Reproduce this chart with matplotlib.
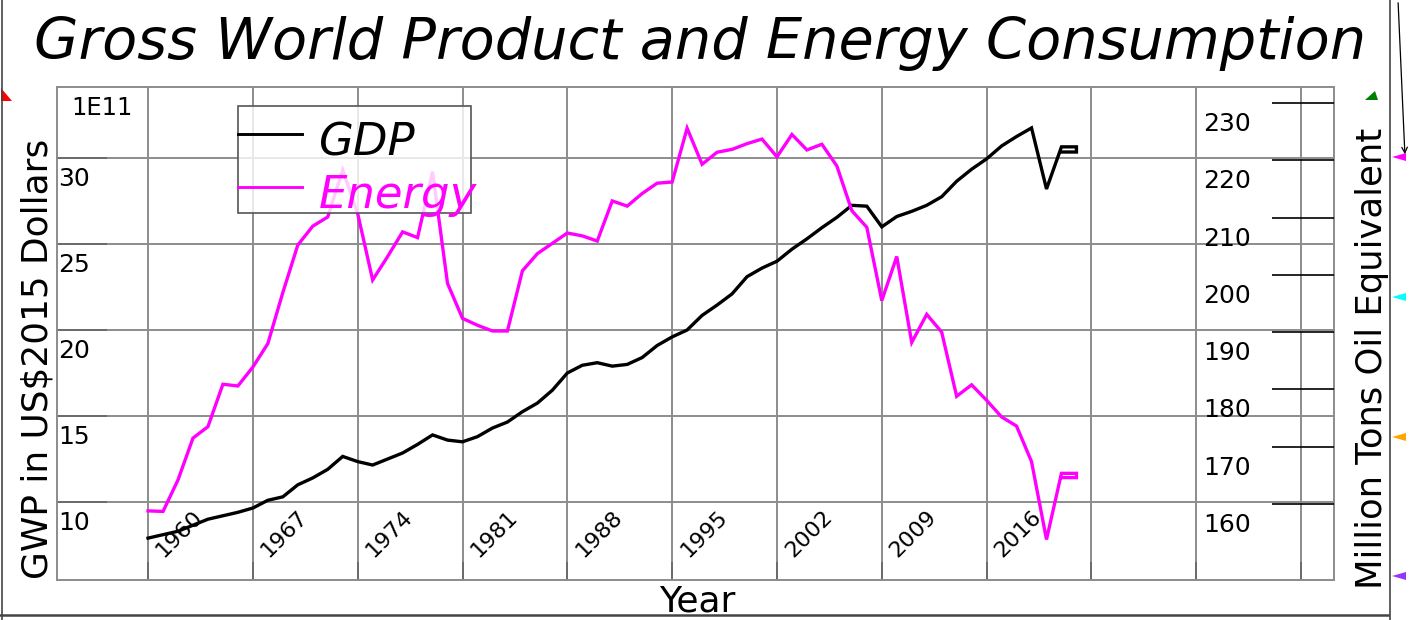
import matplotlib
matplotlib.use("Agg")
import matplotlib.pyplot as plt
from matplotlib import transforms
from matplotlib.lines import Line2D
from matplotlib.patches import Rectangle, Polygon, FancyArrowPatch

plt.rcParams['font.family'] = ['DejaVu Sans']

# ---------------- data ----------------
years = [1960, 1961, 1962, 1963, 1964, 1965, 1966, 1967, 1968, 1969,
         1970, 1971, 1972, 1973, 1974, 1975, 1976, 1977, 1978, 1979,
         1980, 1981, 1982, 1983, 1984, 1985, 1986, 1987, 1988, 1989,
         1990, 1991, 1992, 1993, 1994, 1995, 1996, 1997, 1998, 1999,
         2000, 2001, 2002, 2003, 2004, 2005, 2006, 2007, 2008, 2009,
         2010, 2011, 2012, 2013, 2014, 2015, 2016, 2017, 2018, 2019,
         2020, 2021, 2022, 2022, 2021]

gdp = [7.9, 8.1, 8.3, 8.65, 9.0, 9.2, 9.4, 9.65, 10.1, 10.3,
       11.0, 11.4, 11.9, 12.65, 12.35, 12.15, 12.5, 12.85, 13.35, 13.9,
       13.6, 13.5, 13.8, 14.3, 14.65, 15.25, 15.75, 16.5, 17.5, 17.95,
       18.1, 17.9, 18.0, 18.4, 19.1, 19.6, 20.0, 20.85, 21.45, 22.1,
       23.1, 23.6, 24.0, 24.7, 25.3, 25.95, 26.55, 27.25, 27.2, 26.0,
       26.6, 26.9, 27.25, 27.75, 28.65, 29.35, 29.95, 30.7, 31.25, 31.75,
       28.2, 30.65, 30.65, 30.35, 30.35]

energy = [158.8, 158.7, 164.2, 171.5, 173.5, 180.9, 180.6, 183.9, 188.0, 196.9,
          205.2, 208.5, 210.1, 218.3, 210.7, 199.1, 203.2, 207.5, 206.5, 218.0,
          198.5, 192.4, 191.2, 190.2, 190.2, 200.7, 203.7, 205.5, 207.3, 206.8,
          205.9, 212.9, 212.0, 214.2, 216.0, 216.2, 225.6, 219.3, 221.4, 221.9,
          222.9, 223.7, 220.6, 224.5, 221.8, 222.8, 219.0, 211.2, 208.3, 195.5,
          203.2, 188.2, 193.1, 190.0, 178.8, 180.8, 178.1, 175.2, 173.6, 167.4,
          153.8, 165.35, 165.35, 164.6, 164.6]

gdp_ticks = [10, 15, 20, 25, 30]
energy_ticks = [160, 170, 180, 190, 200, 210, 220, 230]
year_ticks = list(range(1960, 2038, 7))
year_labels = [1960, 1967, 1974, 1981, 1988, 1995, 2002, 2009, 2016]
series_names = ["GDP", "Energy"]
series_colors = ["black", "#ff00ff"]

# ---------------- layout ----------------
W, H = 1409, 620
fig = plt.figure(figsize=(W / 100, H / 100), dpi=100)
fig.patch.set_facecolor("white")


def fx(px):
    return px / W


def fy(py):
    return 1 - py / H


ax = fig.add_axes([fx(57), fy(580), (1334 - 57) / W, (580 - 87) / H])
ax.set_xlim(1953.92, 2039.2)
ax.set_ylim(5.465, 34.13)

GRID = "#8c8c8c"
LW = 2.4
ax.plot(years, gdp, color=series_colors[0], lw=LW, solid_joinstyle="miter", zorder=3)
ax.set_xticks(year_ticks)
ax.set_yticks(gdp_ticks)
ax.grid(True, color=GRID, lw=1.4)
ax.set_axisbelow(True)
ax.tick_params(axis="x", direction="in", length=13, width=1.2, color="#666666",
               labelbottom=False)
ax.tick_params(axis="y", direction="in", length=36, width=1.2, color="#666666",
               labelleft=False)
for s in ax.spines.values():
    s.set_color(GRID)
    s.set_linewidth(1.4)

ax2 = ax.twinx()
ax2.set_ylim(146.73, 232.79)
ax2.plot(years, energy, color=series_colors[1], lw=LW, solid_joinstyle="miter", zorder=3)
ax2.set_yticks(energy_ticks)
ax2.tick_params(axis="y", direction="in", length=45, width=1.2, color="black",
                labelright=False)
for s in ax2.spines.values():
    s.set_visible(False)

# tick labels drawn inside the plot area
TICK_FS = 18
trans_l = transforms.offset_copy(
    transforms.blended_transform_factory(ax.transAxes, ax.transData),
    fig=fig, x=1, y=-9, units="dots")
for v in gdp_ticks:
    ax.text(0, v, str(v), transform=trans_l, ha="left", va="top",
            fontsize=TICK_FS, color="black")
ax.text(0, 1, "1E11",
        transform=transforms.offset_copy(ax.transAxes, fig=fig, x=14, y=-9, units="dots"),
        ha="left", va="top", fontsize=TICK_FS - 0.5, color="black")

trans_r = transforms.offset_copy(
    transforms.blended_transform_factory(ax2.transAxes, ax2.transData),
    fig=fig, x=0, y=-9, units="dots")
for v in energy_ticks:
    ax2.text((1251 - 57) / 1277, v, str(v), transform=trans_r, ha="right", va="top",
             fontsize=TICK_FS, color="black")

trans_x = transforms.offset_copy(
    transforms.blended_transform_factory(ax.transData, ax.transAxes),
    fig=fig, x=16, y=22, units="dots")
for yr in year_labels:
    ax2.text(yr, 0, str(yr), transform=trans_x, rotation=45, rotation_mode="anchor",
             ha="left", va="baseline", fontsize=16, color="black", zorder=8)

# ---------------- legend (drawn by hand, text overflows the box) ----------------
leg = Rectangle((fx(238), fy(213)), (471 - 238) / W, (213 - 106) / H,
                transform=fig.transFigure, facecolor=(1, 1, 1, 0.8),
                edgecolor="#555555", lw=1.2, zorder=10, clip_on=False)
ax2.add_patch(leg)
for name, col, ly, ty in zip(series_names, series_colors, [134, 187], [155, 208]):
    ax2.add_line(Line2D([fx(238), fx(302)], [fy(ly), fy(ly)], transform=fig.transFigure,
                        color=col, lw=2.1, zorder=11, clip_on=False))
    ax2.text(fx(319), fy(ty), name, transform=fig.transFigure, color=col,
             fontsize=32.4, style="italic", ha="left", va="baseline", zorder=12)

# ---------------- titles / axis labels ----------------
fig.text(fx(700), fy(59), "Gross World Product and Energy Consumption",
         fontsize=41.3, style="italic", ha="center", va="baseline")
fig.text(fx(48), fy(359), "GWP in US$2015 Dollars", fontsize=25.8, rotation=90,
         rotation_mode="anchor", ha="center", va="baseline")
fig.text(fx(1382), fy(358), "Million Tons Oil Equivalent", fontsize=25.5, rotation=90,
         rotation_mode="anchor", ha="center", va="baseline")
fig.text(fx(697), fy(611), "Year", fontsize=26, ha="center", va="baseline")

# ---------------- surrounding decorations ----------------
fig.add_artist(Line2D([fx(0), fx(1388)], [fy(615), fy(615)], transform=fig.transFigure,
                      color="#444444", lw=1.8))
fig.add_artist(Line2D([fx(2), fx(2)], [fy(0), fy(620)], transform=fig.transFigure,
                      color="#444444", lw=1.2))
fig.add_artist(Line2D([fx(1389.5), fx(1389.5)], [fy(0), fy(620)], transform=fig.transFigure,
                      color="#444444", lw=1.2))
fig.add_artist(FancyArrowPatch((fx(1398), fy(0)), (fx(1405), fy(157)),
                               transform=fig.transFigure, arrowstyle="->",
                               mutation_scale=10, color="black", lw=0.9))
tri = [
    ("red", [(1, 88), (12, 101), (1, 101)]),
    ("green", [(1365, 100), (1378, 100), (1375, 91)]),
    ("#ff00ff", [(1392, 157), (1406, 153), (1406, 161)]),
    ("cyan", [(1392, 297), (1406, 293), (1406, 301)]),
    ("orange", [(1392, 437), (1406, 433), (1406, 441)]),
    ("#9933ff", [(1392, 576), (1406, 572), (1406, 580)]),
]
for col, pts in tri:
    fig.add_artist(Polygon([(fx(a), fy(b)) for a, b in pts], closed=True,
                           transform=fig.transFigure, facecolor=col, edgecolor="none"))

fig.savefig("out.png", dpi=100, facecolor="white")
